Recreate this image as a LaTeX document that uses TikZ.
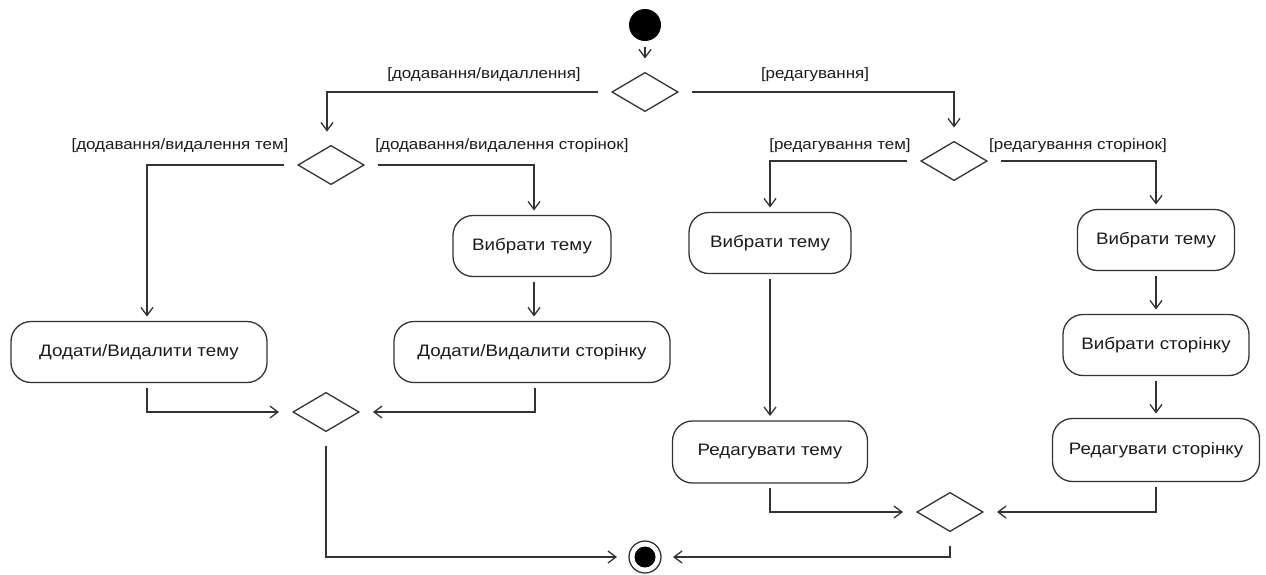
\documentclass[tikz,border=0pt]{standalone}
\usepackage{fontspec}
\setmainfont{Liberation Sans}[FakeStretch=1.13]
\usetikzlibrary{shapes.geometric,arrows.meta}
\definecolor{ln}{HTML}{333333}
\definecolor{tx}{HTML}{1A1A1A}
\tikzset{
  act/.style={draw=ln, line width=1.3pt, rounded corners=20pt, minimum height=61pt,
              inner sep=0pt, outer sep=5pt, font=\fontsize{16.6}{18}\selectfont, text=tx},
  dec/.style={draw=ln, line width=1.3pt, diamond, minimum width=74pt, minimum height=47pt,
              inner sep=0pt, outer sep=10pt},
  guard/.style={font=\fontsize{15}{17}\selectfont, text=tx, inner sep=0pt},
  flow/.style={draw=ln, line width=1.3pt, -{Straight Barb[length=8pt,width=12pt,line width=1.3pt]}},
  initnode/.style={circle, fill=black, minimum size=32pt, inner sep=0pt, outer sep=6pt},
  finalnode/.style={circle, draw=ln, line width=1.3pt, minimum size=32pt, inner sep=0pt, outer sep=12pt,
              path picture={\fill[black] (path picture bounding box.center) circle (10.5pt);}}
}
\begin{document}
\begin{tikzpicture}[x=1pt,y=-1pt]
\useasboundingbox (0,0) rectangle (1266,574);
% nodes
\node[initnode] (start) at (645,25) {};
\node[dec] (d1) at (645,92) {};
\node[dec] (d2) at (331,165) {};
\node[dec] (d4) at (954,161) {};
\node[act, minimum width=256pt] (b1) at (139,352) {Додати/Видалити тему};
\node[act, minimum width=158pt] (l1) at (532,246) {Вибрати тему};
\node[act, minimum width=276pt] (l2) at (532,352) {Додати/Видалити сторінку};
\node[dec] (d3) at (326,412) {};
\node[act, minimum width=162pt] (r1) at (770,243) {Вибрати тему};
\node[act, minimum width=195pt, minimum height=62pt] (r1b) at (770,452) {Редагувати тему};
\node[act, minimum width=157pt] (r2) at (1156,240) {Вибрати тему};
\node[act, minimum width=186pt] (r2b) at (1156,345) {Вибрати сторінку};
\node[act, minimum width=207pt, minimum height=63pt] (r2c) at (1156,450) {Редагувати сторінку};
\node[dec] (d5) at (950,512) {};
\node[finalnode] (end) at (645,557) {};
% guards
\node[guard] (g1) at (484,75) {[додавання/видаллення]};
\node[guard] (g2) at (815,75) {[редагування]};
\node[guard] (g3) at (180,146) {[додавання/видалення тем]};
\node[guard] (g4) at (502,146) {[додавання/видалення сторінок]};
\node[guard] (g5) at (840,146) {[редагування тем]};
\node[guard] (g6) at (1078,146) {[редагування сторінок]};
% flows
\draw[flow] (start) -- (d1);
\draw[flow] (d1.west) -| ([xshift=-4pt]d2.north);
\draw[flow] (d1.east) -| (d4.north);
\draw[flow] (d2.west) -| ([xshift=8pt]b1.north);
\draw[flow] (d2.east) -| ([xshift=2pt]l1.north);
\draw[flow] ([xshift=2pt]l1.south) -- ([xshift=2pt]l2.north);
\draw[flow] ([xshift=8pt]b1.south) |- (d3.west);
\draw[flow] ([xshift=3pt]l2.south) |- (d3.east);
\draw[flow] (d3.south) |- (end.west);
\draw[flow] (d4.west) -| (r1.north);
\draw[flow] (d4.east) -| (r2.north);
\draw[flow] (r1) -- (r1b);
\draw[flow] (r2) -- (r2b);
\draw[flow] (r2b) -- (r2c);
\draw[flow] (r1b.south) |- (d5.west);
\draw[flow] (r2c.south) |- (d5.east);
\draw[flow] (d5.south) |- (end.east);
\end{tikzpicture}
\end{document}
